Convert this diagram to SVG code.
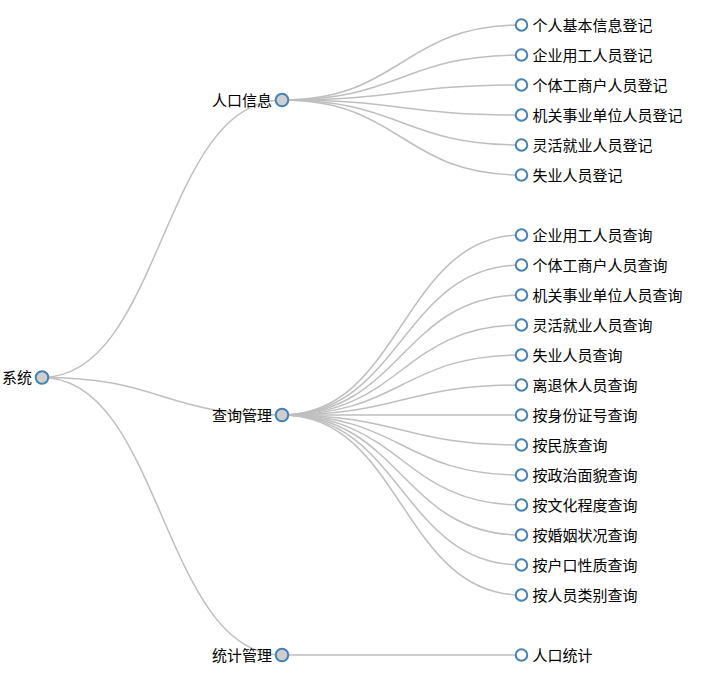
<svg xmlns="http://www.w3.org/2000/svg" width="718" height="679" viewBox="0 0 718 679">
<style>
.link{fill:none;stroke:#bfbfbf;stroke-width:1.5px}
.node circle{stroke:#4682b4;stroke-width:2px}
.inner circle{fill:#cfcfcf}
.leaf circle{fill:#fff}
.node text{font-family:"Microsoft YaHei","Noto Sans CJK SC","Noto Sans",sans-serif;font-size:15px;fill:#000}
.inner text{text-anchor:end}
.leaf text{text-anchor:start}
</style>
<rect width="718" height="679" fill="#fff"/>
<g id="links">
<path class="link" d="M42,377.5C162,377.5 162,100 282,100"/>
<path class="link" d="M42,377.5C162,377.5 162,415 282,415"/>
<path class="link" d="M42,377.5C162,377.5 162,655 282,655"/>
<path class="link" d="M282,100C401.75,100 401.75,25 521.5,25"/>
<path class="link" d="M282,100C401.75,100 401.75,55 521.5,55"/>
<path class="link" d="M282,100C401.75,100 401.75,85 521.5,85"/>
<path class="link" d="M282,100C401.75,100 401.75,115 521.5,115"/>
<path class="link" d="M282,100C401.75,100 401.75,145 521.5,145"/>
<path class="link" d="M282,100C401.75,100 401.75,175 521.5,175"/>
<path class="link" d="M282,415C401.75,415 401.75,235 521.5,235"/>
<path class="link" d="M282,415C401.75,415 401.75,265 521.5,265"/>
<path class="link" d="M282,415C401.75,415 401.75,295 521.5,295"/>
<path class="link" d="M282,415C401.75,415 401.75,325 521.5,325"/>
<path class="link" d="M282,415C401.75,415 401.75,355 521.5,355"/>
<path class="link" d="M282,415C401.75,415 401.75,385 521.5,385"/>
<path class="link" d="M282,415C401.75,415 401.75,415 521.5,415"/>
<path class="link" d="M282,415C401.75,415 401.75,445 521.5,445"/>
<path class="link" d="M282,415C401.75,415 401.75,475 521.5,475"/>
<path class="link" d="M282,415C401.75,415 401.75,505 521.5,505"/>
<path class="link" d="M282,415C401.75,415 401.75,535 521.5,535"/>
<path class="link" d="M282,415C401.75,415 401.75,565 521.5,565"/>
<path class="link" d="M282,415C401.75,415 401.75,595 521.5,595"/>
<path class="link" d="M282,655C401.75,655 401.75,655 521.5,655"/>
</g>
<g id="n-root" class="node inner" transform="translate(42,377.5)"><circle r="6.25"/><text x="-10" dy="0.38em">系统</text></g>
<g id="n-renkou" class="node inner" transform="translate(282,100)"><circle r="6.25"/><text x="-10" dy="0.38em">人口信息</text></g>
<g id="n-chaxun" class="node inner" transform="translate(282,415)"><circle r="6.25"/><text x="-10" dy="0.38em">查询管理</text></g>
<g id="n-tongji" class="node inner" transform="translate(282,655)"><circle r="6.25"/><text x="-10" dy="0.38em">统计管理</text></g>
<g id="n-l1" class="node leaf" transform="translate(521.5,25)"><circle r="5.75"/><text x="11" dy="0.38em">个人基本信息登记</text></g>
<g id="n-l2" class="node leaf" transform="translate(521.5,55)"><circle r="5.75"/><text x="11" dy="0.38em">企业用工人员登记</text></g>
<g id="n-l3" class="node leaf" transform="translate(521.5,85)"><circle r="5.75"/><text x="11" dy="0.38em">个体工商户人员登记</text></g>
<g id="n-l4" class="node leaf" transform="translate(521.5,115)"><circle r="5.75"/><text x="11" dy="0.38em">机关事业单位人员登记</text></g>
<g id="n-l5" class="node leaf" transform="translate(521.5,145)"><circle r="5.75"/><text x="11" dy="0.38em">灵活就业人员登记</text></g>
<g id="n-l6" class="node leaf" transform="translate(521.5,175)"><circle r="5.75"/><text x="11" dy="0.38em">失业人员登记</text></g>
<g id="n-q1" class="node leaf" transform="translate(521.5,235)"><circle r="5.75"/><text x="11" dy="0.38em">企业用工人员查询</text></g>
<g id="n-q2" class="node leaf" transform="translate(521.5,265)"><circle r="5.75"/><text x="11" dy="0.38em">个体工商户人员查询</text></g>
<g id="n-q3" class="node leaf" transform="translate(521.5,295)"><circle r="5.75"/><text x="11" dy="0.38em">机关事业单位人员查询</text></g>
<g id="n-q4" class="node leaf" transform="translate(521.5,325)"><circle r="5.75"/><text x="11" dy="0.38em">灵活就业人员查询</text></g>
<g id="n-q5" class="node leaf" transform="translate(521.5,355)"><circle r="5.75"/><text x="11" dy="0.38em">失业人员查询</text></g>
<g id="n-q6" class="node leaf" transform="translate(521.5,385)"><circle r="5.75"/><text x="11" dy="0.38em">离退休人员查询</text></g>
<g id="n-q7" class="node leaf" transform="translate(521.5,415)"><circle r="5.75"/><text x="11" dy="0.38em">按身份证号查询</text></g>
<g id="n-q8" class="node leaf" transform="translate(521.5,445)"><circle r="5.75"/><text x="11" dy="0.38em">按民族查询</text></g>
<g id="n-q9" class="node leaf" transform="translate(521.5,475)"><circle r="5.75"/><text x="11" dy="0.38em">按政治面貌查询</text></g>
<g id="n-q10" class="node leaf" transform="translate(521.5,505)"><circle r="5.75"/><text x="11" dy="0.38em">按文化程度查询</text></g>
<g id="n-q11" class="node leaf" transform="translate(521.5,535)"><circle r="5.75"/><text x="11" dy="0.38em">按婚姻状况查询</text></g>
<g id="n-q12" class="node leaf" transform="translate(521.5,565)"><circle r="5.75"/><text x="11" dy="0.38em">按户口性质查询</text></g>
<g id="n-q13" class="node leaf" transform="translate(521.5,595)"><circle r="5.75"/><text x="11" dy="0.38em">按人员类别查询</text></g>
<g id="n-t1" class="node leaf" transform="translate(521.5,655)"><circle r="5.75"/><text x="11" dy="0.38em">人口统计</text></g>
</svg>
